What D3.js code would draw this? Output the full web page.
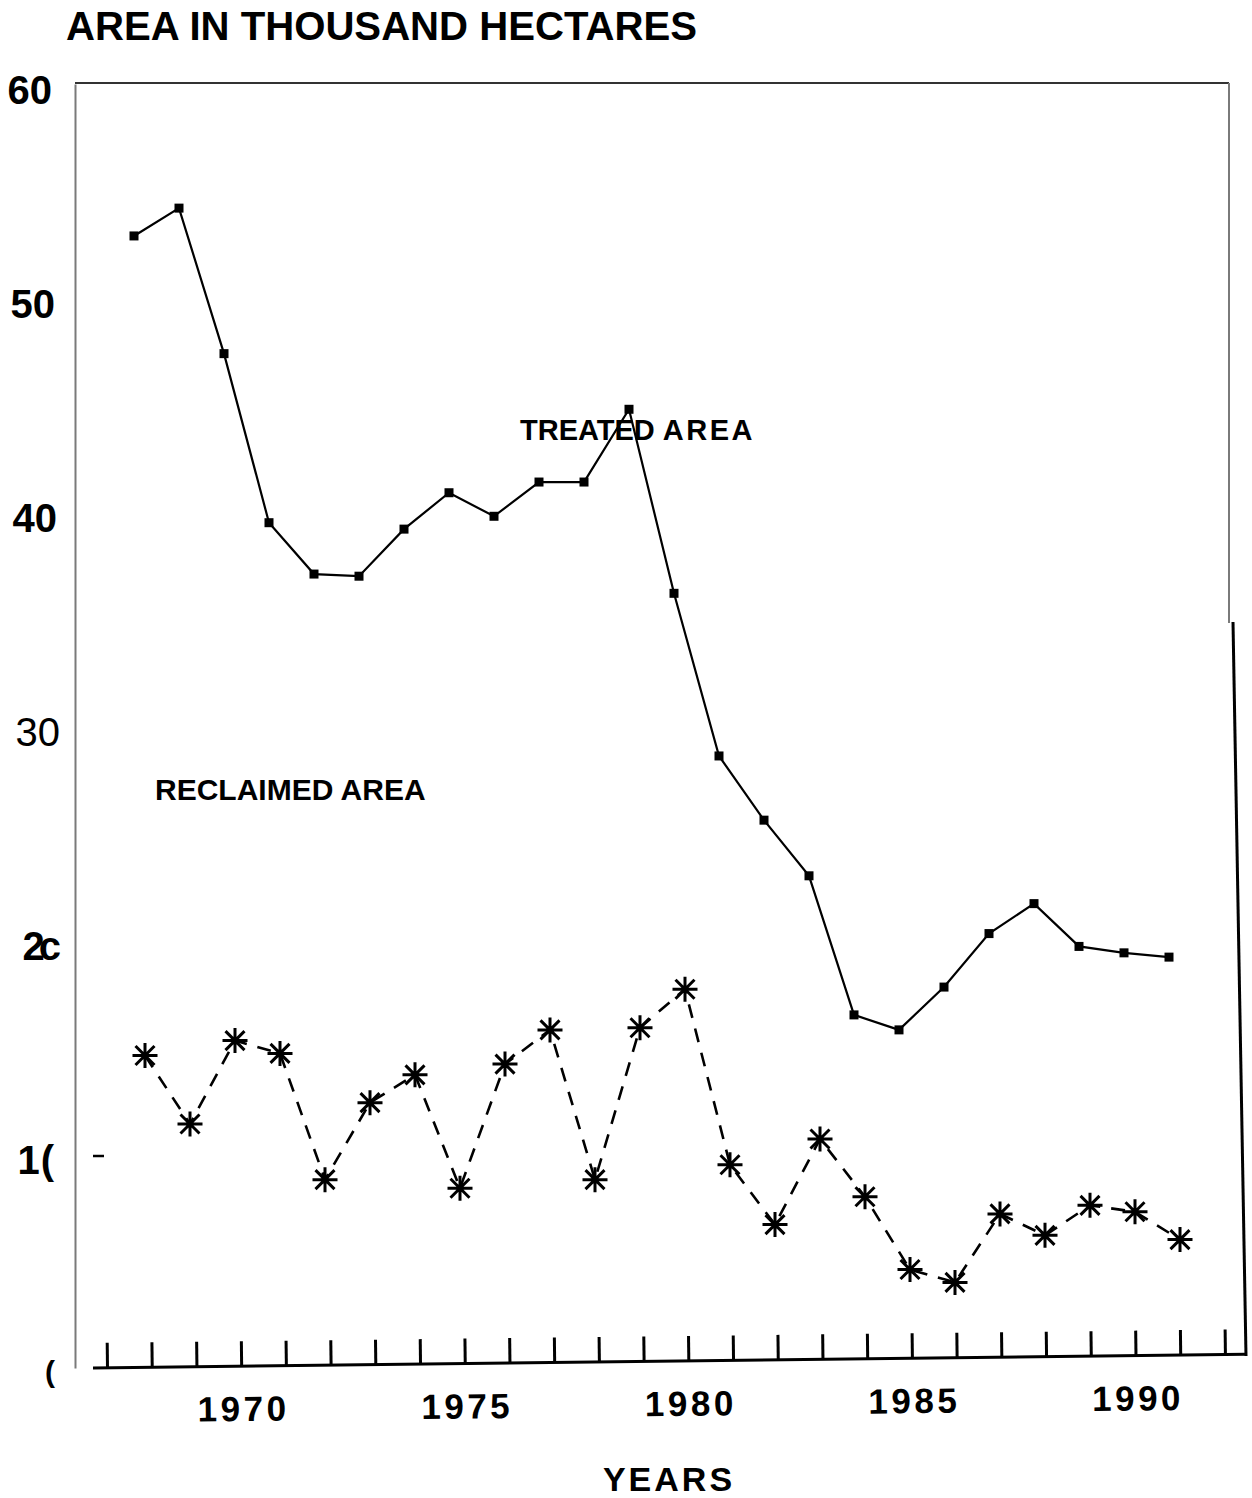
<!DOCTYPE html>
<html><head><meta charset="utf-8">
<script src="https://cdn.jsdelivr.net/npm/d3@7"></script>
<style>
body{margin:0;background:#fff}
text{font-family:"Liberation Sans",Arial,Helvetica,sans-serif;fill:#000}
</style>
</head><body>
<svg id="chart" width="1252" height="1498"></svg>
<script>
// ---- data ----
const years = [1968,1969,1970,1971,1972,1973,1974,1975,1976,1977,1978,1979,
               1980,1981,1982,1983,1984,1985,1986,1987,1988,1989,1990,1991];
const treatedArea = [52.9,54.2,47.4,39.5,37.1,37.0,39.2,40.9,39.8,41.4,41.4,44.8,
                     36.2,28.6,25.6,23.0,16.5,15.8,17.8,20.3,21.7,19.7,19.4,19.2];
const reclaimedArea = [14.6,11.4,15.3,14.7,8.8,12.4,13.7,8.4,14.2,15.8,8.8,15.9,
                       17.7,9.5,6.7,10.7,8.0,4.6,4.0,7.2,6.2,7.6,7.3,6.0];
const yTickValues = [0,10,20,30,40,50,60];
const yTickLabels = ["(", "1(", "2c", "30", "40", "50", "60"];
const xTickYears = [1967,1968,1969,1970,1971,1972,1973,1974,1975,1976,1977,1978,1979,
                    1980,1981,1982,1983,1984,1985,1986,1987,1988,1989,1990,1991,1992];
const xLabelYears = [1970,1975,1980,1985,1990];

// ---- layout ----
const svg = d3.select("#chart");
const y = d3.scaleLinear().domain([0,60]).range([1368,84]);
const xTick = d3.scaleLinear().domain([1967,1992]).range([107,1225]);
const xPt = d3.scaleLinear().domain([1968,1991]).range([140,1175]);

// title
svg.append("text").attr("x",66).attr("y",40)
  .attr("font-size",40).attr("font-weight","bold")
  .attr("textLength",631).attr("lengthAdjust","spacingAndGlyphs")
  .text("AREA IN THOUSAND HECTARES");

// frame
svg.append("line").attr("x1",75).attr("x2",1229).attr("y1",83).attr("y2",83)
  .attr("stroke","#333").attr("stroke-width",2);
svg.append("line").attr("x1",1229).attr("x2",1229).attr("y1",83).attr("y2",623)
  .attr("stroke","#7a7a7a").attr("stroke-width",2);
svg.append("line").attr("x1",1233).attr("x2",1246).attr("y1",622).attr("y2",1356)
  .attr("stroke","#000").attr("stroke-width",3);

// y axis
const yLabelRight = {0:55,10:55,20:55,30:60,40:57,50:55,60:52};
const yAxis = d3.axisLeft(y).tickValues(yTickValues).tickSize(0).tickPadding(19)
  .tickFormat((d,i)=>yTickLabels[i]);
const gy = svg.append("g").attr("transform","translate(75,0)").call(yAxis);
gy.select(".domain").attr("stroke","#7a7a7a").attr("stroke-width",2);
gy.selectAll("text")
  .attr("font-size",d=>d===0?30:40)
  .attr("font-weight",d=>d===30?"normal":"bold")
  .attr("font-family","'Liberation Sans',Arial,sans-serif")
  .attr("x",d=>yLabelRight[d]-75)
  .attr("dy",d=>d===0?"0.45em":"0.48em")
  .attr("letter-spacing",d=>d===20?"-6":(d===10?"1":"0"));
gy.selectAll(".tick line").remove();
// small dash at 10
svg.append("line").attr("x1",93).attr("x2",104).attr("y1",y(10)+2).attr("y2",y(10)+2)
  .attr("stroke","#000").attr("stroke-width",2.5);

// x axis (slightly tilted like the scan)
const xAxis = d3.axisBottom(xTick).tickValues(xTickYears).tickSize(-25).tickSizeOuter(0)
  .tickPadding(30).tickFormat(d=>xLabelYears.includes(d)?String(d):"");
const gx = svg.append("g").attr("transform","translate(0,1368) rotate(-0.68,93,0)").call(xAxis);
gx.select(".domain").remove();
gx.append("line").attr("x1",xTick(1967)-14).attr("x2",xTick(1992)+21).attr("y1",0).attr("y2",0)
  .attr("stroke","#000").attr("stroke-width",3);
gx.selectAll(".tick line").attr("stroke","#000").attr("stroke-width",3);
gx.selectAll("text").attr("font-size",35).attr("font-weight","bold")
  .attr("font-family","'Liberation Sans',Arial,sans-serif")
  .attr("letter-spacing","3.5").attr("dx","1.5");

// axis title
svg.append("text").attr("x",669).attr("y",1491).attr("text-anchor","middle")
  .attr("font-size",34).attr("font-weight","bold").attr("letter-spacing","3")
  .text("YEARS");

// treated area line
const lineT = d3.line().x((d,i)=>xPt(years[i])-6).y(d=>y(d));
svg.append("path").datum(treatedArea).attr("d",lineT)
  .attr("fill","none").attr("stroke","#000").attr("stroke-width",2.2);
svg.selectAll("rect.t").data(treatedArea).enter().append("rect").attr("class","t")
  .attr("x",(d,i)=>xPt(years[i])-6-4.5).attr("y",d=>y(d)-4.5)
  .attr("width",9).attr("height",9).attr("fill","#000");

// reclaimed area line
const lineR = d3.line().x((d,i)=>xPt(years[i])+5).y(d=>y(d));
svg.append("path").datum(reclaimedArea).attr("d",lineR)
  .attr("fill","none").attr("stroke","#000").attr("stroke-width",2.6)
  .attr("stroke-dasharray","14,11");
const star = "M-12.5,0H12.5M0,-12.5V12.5M-9.5,-9.5L9.5,9.5M-9.5,9.5L9.5,-9.5";
svg.selectAll("path.s").data(reclaimedArea).enter().append("path").attr("class","s")
  .attr("transform",(d,i)=>`translate(${xPt(years[i])+5},${y(d)})`)
  .attr("d",star).attr("stroke","#000").attr("stroke-width",3).attr("fill","none");

// series labels
const tl = svg.append("text").attr("x",520).attr("y",440).attr("font-size",29).attr("font-weight","bold");
tl.append("tspan").text("TREATED ");
tl.append("tspan").attr("letter-spacing","2.5").text("AREA");
svg.append("text").attr("x",155).attr("y",800).attr("font-size",30).attr("font-weight","bold")
  .text("RECLAIMED AREA");
</script>
</body></html>
